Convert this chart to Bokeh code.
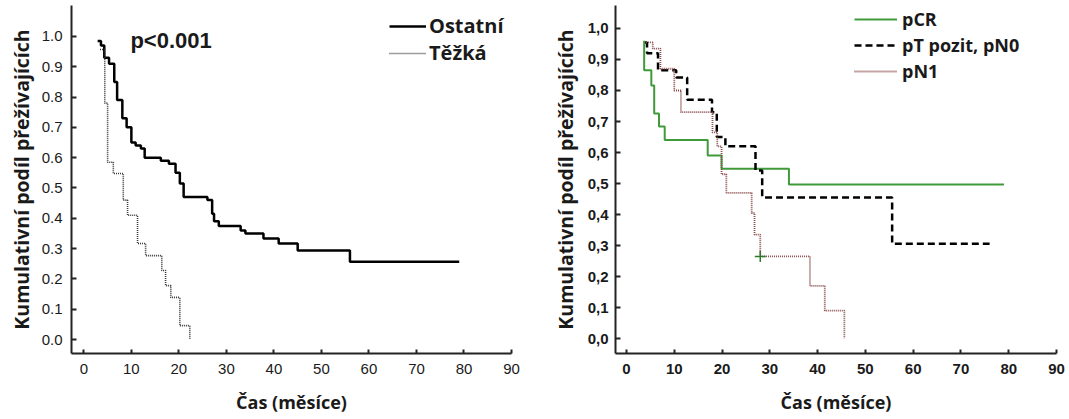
from bokeh.plotting import figure
from bokeh.layouts import row
from bokeh.models import Legend, LegendItem, Label, FixedTicker, CustomJSTickFormatter, Range1d
from bokeh.embed import file_html
from bokeh.resources import INLINE

# ---- data (left chart) ----
ostatni_t = [2.9, 3.6, 4.3, 5.3, 6.4, 7.0, 8.1, 9.0, 10.0, 10.9, 12.0, 12.8, 16.2, 17.9, 19.3, 20.2, 21.0,
             26.0, 27.0, 27.4, 28.4, 33.0, 34.0, 37.8, 41.0, 45.0, 56.0, 79.0]
ostatni_s = [0.985, 0.97, 0.93, 0.91, 0.85, 0.79, 0.73, 0.70, 0.65, 0.64, 0.63, 0.60, 0.59, 0.58, 0.55, 0.515, 0.47,
             0.46, 0.415, 0.39, 0.375, 0.36, 0.35, 0.333, 0.317, 0.294, 0.257, 0.257]
tezka_t = [3.4, 4.4, 5.0, 6.2, 8.3, 9.2, 11.3, 13.0, 16.4, 17.2, 18.3, 20.2, 22.3]
tezka_s = [0.957, 0.78, 0.585, 0.548, 0.46, 0.41, 0.317, 0.277, 0.228, 0.178, 0.139, 0.046, 0.0]

# ---- data (right chart) ----
pcr_t = [3.7, 3.7, 5.2, 5.8, 6.8, 8.0, 17.0, 19.9, 34.0, 79.0]
pcr_s = [0.96, 0.865, 0.816, 0.726, 0.684, 0.64, 0.59, 0.548, 0.497, 0.497]
pt_t = [3.9, 4.3, 6.6, 10.4, 12.7, 17.9, 18.9, 20.7, 27.0, 28.4, 55.6, 76.0]
pt_s = [0.955, 0.92, 0.865, 0.842, 0.77, 0.73, 0.65, 0.62, 0.542, 0.455, 0.306, 0.306]
pn1_t = [4.1, 5.5, 7.1, 10.0, 11.4, 18.0, 19.0, 19.9, 20.9, 26.2, 26.8, 28.0, 38.4, 41.5, 45.6]
pn1_s = [0.955, 0.935, 0.87, 0.80, 0.73, 0.665, 0.62, 0.53, 0.47, 0.405, 0.335, 0.265, 0.17, 0.09, 0.0]
censor_t = [28.0]
censor_s = [0.265]

x_ticks = [0, 10, 20, 30, 40, 50, 60, 70, 80, 90]
y_ticks = [0.0, 0.1, 0.2, 0.3, 0.4, 0.5, 0.6, 0.7, 0.8, 0.9, 1.0]

ylabel = "Kumulativní podíl přežívajících"
xlabel = "Čas (měsíce)"

H = 418
TEXT_FONT = "Open Sans"
TICK_FONT = "Liberation Sans"


def style(p, tick_style, formatter, yl_standoff, ylab_std):
    p.outline_line_color = None
    p.xgrid.visible = False
    p.ygrid.visible = False
    p.background_fill_color = "white"
    p.border_fill_color = "white"
    p.xaxis.ticker = FixedTicker(ticks=x_ticks)
    p.yaxis.ticker = FixedTicker(ticks=y_ticks)
    p.yaxis.formatter = formatter
    for ax in (p.xaxis[0], p.yaxis[0]):
        ax.axis_line_width = 2
        ax.axis_line_color = "#222222"
        ax.major_tick_line_width = 2
        ax.major_tick_line_color = "#222222"
        ax.major_tick_out = 0
        ax.minor_tick_line_color = None
        ax.major_label_text_font = TICK_FONT
        ax.major_label_text_font_size = "15px"
        ax.major_label_text_font_style = tick_style
        ax.major_label_text_color = "#1a1a1a"
        ax.axis_label_text_font = TEXT_FONT
        ax.axis_label_text_font_style = "bold"
        ax.axis_label_text_color = "#1a1a1a"
    p.xaxis.major_tick_in = 4
    p.yaxis.major_tick_in = 5
    p.xaxis.axis_label = xlabel
    p.yaxis.axis_label = ylabel
    p.xaxis.axis_label_text_font_size = "18px"
    p.yaxis.axis_label_text_font_size = "19.5px"
    p.xaxis.major_label_standoff = 10
    p.yaxis.major_label_standoff = ylab_std
    p.xaxis.axis_label_standoff = 13
    p.yaxis.axis_label_standoff = yl_standoff


# ---------------- left chart ----------------
p1 = figure(width=548, height=H, x_range=Range1d(-2.6, 90), y_range=Range1d(-0.046, 1.102),
            output_backend="svg", toolbar_location=None,
            min_border_left=71, min_border_right=37, min_border_top=5, min_border_bottom=65)
style(p1, "normal", CustomJSTickFormatter(code="return tick.toFixed(1);"), 4, 9)

r_ost = p1.step(ostatni_t, ostatni_s, mode="after", line_color="black", line_width=2.5)
r_tez = p1.step(tezka_t, tezka_s, mode="after", line_color="#3a3a3a", line_width=1.6, line_dash="1 1")

leg1 = Legend(items=[LegendItem(label="Ostatní", renderers=[r_ost]),
                     LegendItem(label="Těžká", renderers=[r_tez])],
              location=(318, 287), border_line_color=None, background_fill_alpha=0,
              padding=0, margin=0, glyph_width=37, glyph_height=20, label_height=20,
              label_standoff=3, spacing=0, label_text_font=TEXT_FONT,
              label_text_font_size="20px", label_text_font_style="bold", label_text_color="#1a1a1a")
p1.add_layout(leg1)

p1.add_layout(Label(x=9.8, y=0.987, text="p<0.001", text_font=TICK_FONT, text_font_size="22px",
                    text_font_style="bold", text_baseline="middle", text_align="left",
                    text_color="#1a1a1a"))

# ---------------- right chart ----------------
p2 = figure(width=520, height=H, x_range=Range1d(-2.3, 90), y_range=Range1d(-0.048, 1.074),
            output_backend="svg", toolbar_location=None,
            min_border_left=63, min_border_right=12, min_border_top=5, min_border_bottom=65)
style(p2, "bold", CustomJSTickFormatter(code="return tick.toFixed(1).replace('.', ',');"), 6, 7)

r_pcr = p2.step(pcr_t, pcr_s, mode="after", line_color="#3f9a3a", line_width=2)
r_pt = p2.step(pt_t, pt_s, mode="after", line_color="black", line_width=2.5, line_dash="7 4")
r_pn1 = p2.step(pn1_t, pn1_s, mode="after", line_color="#8b4d4d", line_width=1.8, line_dash="1 1")
p2.scatter(censor_t, censor_s, marker="cross", size=11, line_color="#2f7a2a", line_width=1.5)

leg2 = Legend(items=[LegendItem(label="pCR", renderers=[r_pcr]),
                     LegendItem(label="pT pozit, pN0", renderers=[r_pt]),
                     LegendItem(label="pN1", renderers=[r_pn1])],
              location=(239, 270), border_line_color=None, background_fill_alpha=0,
              padding=0, margin=0, glyph_width=43, glyph_height=20, label_height=20,
              label_standoff=5, spacing=2, label_text_font=TEXT_FONT,
              label_text_font_size="18px", label_text_font_style="bold", label_text_color="#1a1a1a")
p2.add_layout(leg2)

layout = row(p1, p2, spacing=0)
open("out.html", "w").write(file_html(layout, INLINE))
